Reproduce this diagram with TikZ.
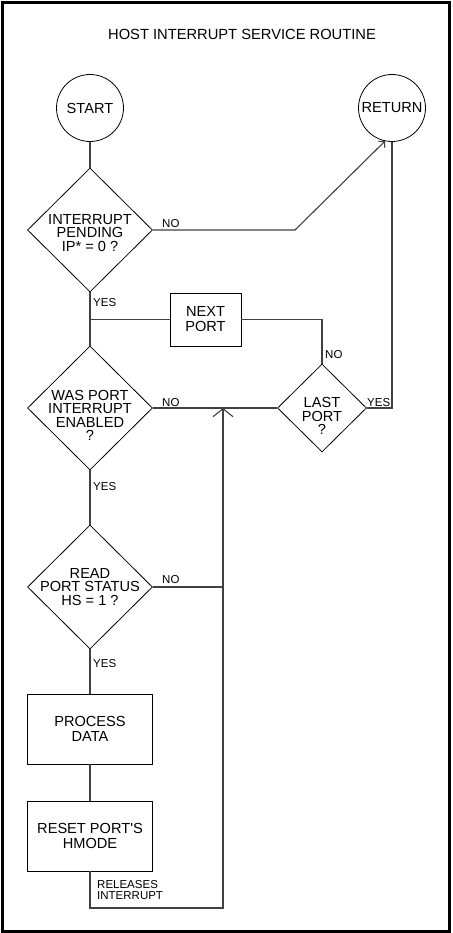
\documentclass[tikz,border=0pt]{standalone}
\usepackage{fontspec}
\setmainfont{Liberation Sans}
\usetikzlibrary{shapes.geometric,arrows.meta}
\begin{document}
\begin{tikzpicture}[x=1pt,y=-1pt,
  decision/.style={diamond,draw,line width=0.8pt,minimum width=125pt,minimum height=124pt,inner sep=0pt},
  procbox/.style={rectangle,draw,line width=0.8pt,minimum width=125pt,minimum height=70pt,inner sep=0pt,align=center,font=\fontsize{14.6}{15}\selectfont},
  termcirc/.style={circle,draw,line width=0.8pt,minimum size=67pt,inner sep=0pt,font=\fontsize{14.6}{15}\selectfont},
  txt/.style={font=\fontsize{14.6}{13.5}\selectfont,align=center,inner sep=0pt},
  lbl/.style={font=\fontsize{11.5}{11}\selectfont,inner sep=0pt,align=left,anchor=west},
  flow/.style={black!75,line width=1.1pt}]
\useasboundingbox (0,0) rectangle (452,933);
\draw[line width=3pt] (2.6,2.8) rectangle (449.6,931.2);
\node[font=\fontsize{14.7}{15}\selectfont,inner sep=0pt] (title) at (242,34) {HOST INTERRUPT SERVICE ROUTINE};
% terminals
\node[termcirc] (start) at (90,108) {START};
\node[termcirc] (ret) at (392,108) {RETURN};
% decisions
\node[decision] (pend) at (90,230) {};
\node[txt] (pend-t) at (90,233) {INTERRUPT\\PENDING\\IP* = 0 ?};
\node[decision] (was) at (90,408) {};
\node[txt] (was-t) at (90,415.5) {WAS PORT\\INTERRUPT\\ENABLED\\?};
\node[decision] (read) at (90,587) {};
\node[txt] (read-t) at (90,587) {READ\\PORT STATUS\\HS = 1 ?};
\node[decision,minimum width=89pt,minimum height=88pt] (last) at (322,408) {};
\node[txt] (last-t) at (322,416) {LAST\\PORT\\?};
% process boxes
\node[procbox,minimum width=71pt,minimum height=53pt] (next) at (205.5,319.5) {NEXT\\PORT};
\node[procbox] (proc) at (90,729) {PROCESS\\DATA};
\node[procbox] (reset) at (90,836) {RESET PORT\textquotesingle S\\HMODE};
% junctions
\coordinate (j1) at (pend.south |- next.west);
\coordinate (bend) at (295,230);
\coordinate (merge) at (223,408);
\coordinate (rd) at (merge |- read.east);
\coordinate (loop) at (223,908);
% connectors
\draw[flow] (start) -- (pend);
\draw[flow] (pend) -- (was);
\draw[flow] (next) -- (j1);
\draw[flow] (last.north) |- (next.east);
\draw[flow] (was) -- (last);
\draw[flow,-{Straight Barb[length=4pt,width=9pt]}] (pend.east) -- (bend) -- (ret.258);
\draw[flow] (last.east) -| (ret.south);
\draw[flow] (was) -- (read);
\draw[flow] (read.east) -- (rd);
\draw[flow] (read) -- (proc);
\draw[flow] (proc) -- (reset);
\draw[flow,-{Straight Barb[length=8pt,width=20pt]}] (reset.south) |- (loop) -- (merge);
% labels
\node[lbl] (no1) at (162,224) {NO};
\node[lbl] (yes1) at (93,303) {YES};
\node[lbl] (no2) at (325,355) {NO};
\node[lbl] (no3) at (162,403) {NO};
\node[lbl] (yes2) at (367,403) {YES};
\node[lbl] (yes3) at (93,487) {YES};
\node[lbl] (no4) at (162,580) {NO};
\node[lbl] (yes4) at (93,664) {YES};
\node[lbl] (rel) at (97,890) {RELEASES\\INTERRUPT};
\end{tikzpicture}
\end{document}
